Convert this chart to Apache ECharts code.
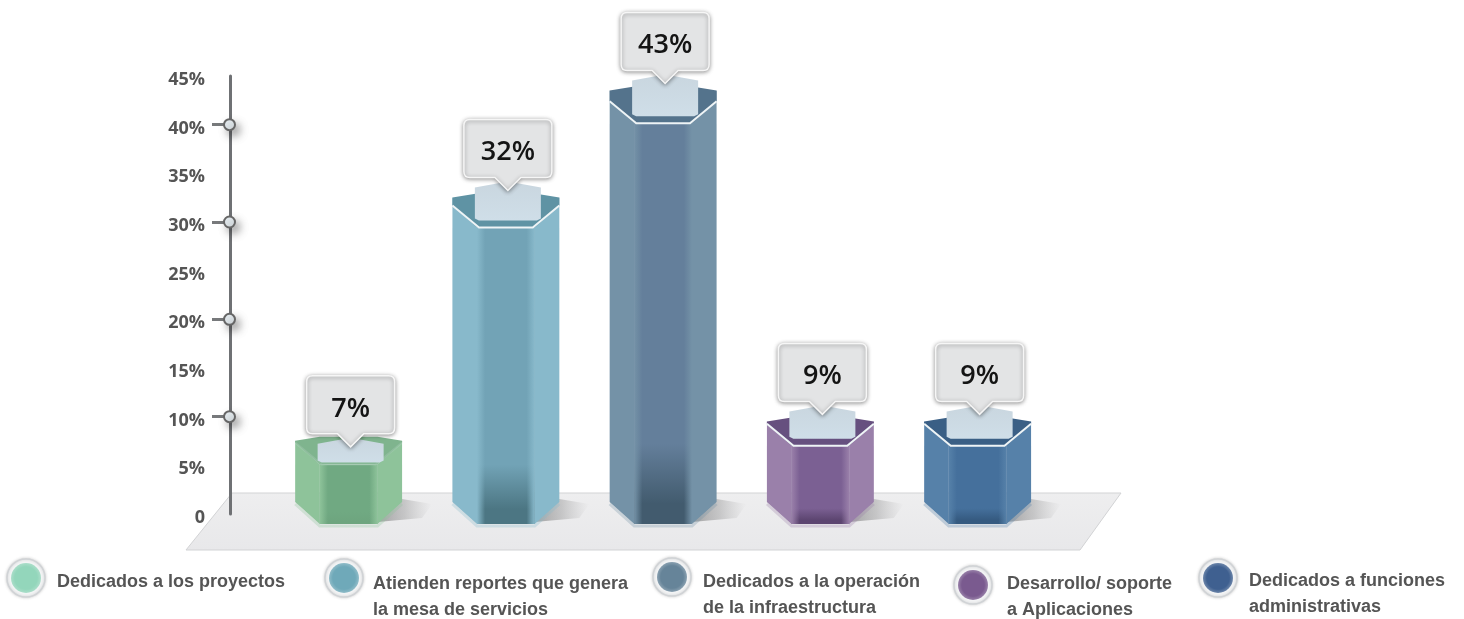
<!DOCTYPE html>
<html>
<head>
<meta charset="utf-8">
<title>Dedicación del personal</title>
<script src="https://cdn.jsdelivr.net/npm/echarts@6/dist/echarts.min.js"></script>
<style>
html, body {margin: 0; padding: 0; background: #fff;}
#main {width: 1464px; height: 619px;}
</style>
</head>
<body>
<div id="main"></div>
<script>
// data
const categories = ['Dedicados a los proyectos', 'Atienden reportes', 'Operación', 'Desarrollo', 'Administrativas'];
const percents = [7, 32, 43, 9, 9];
const tickMarks = [10, 20, 30, 40];
const legendLabels = [
    'Dedicados a los proyectos',
    'Atienden reportes que genera\nla mesa de servicios',
    'Dedicados a la operación\nde la infraestructura',
    'Desarrollo/ soporte\na Aplicaciones',
    'Dedicados a funciones\nadministrativas'
];

// colours per bar
const faceColors = ['#70a982', '#72a3b6', '#647f9b', '#7b6093', '#45709c'];
const sideColors = ['#8ec39a', '#88b9cb', '#7492a7', '#9a80aa', '#5681a9'];
const capColors = ['#7fb48e', '#5f93a4', '#54738c', '#66507f', '#3a5f85'];
const footColors = ['#6ea57f', '#4c7683', '#425b6e', '#5c4570', '#355a80'];
const legendColors = ['#93d6bb', '#6fa9b9', '#668499', '#7a5a8f', '#3f6090'];
const rimOpacity = [0.15, 1, 1, 1, 1];
// the short green bar has its bubble sitting down on the cap
const bubbleDrop = [13, 0, 0, 0, 0];

// legend layout: circle x, circle y, text x, text y
const legendPos = [
    [26, 578, 57, 582],
    [344, 578, 373, 597],
    [672, 577, 703, 595],
    [973, 585, 1007, 597],
    [1218, 578, 1249, 594]
];

const axisOffset = 40;

function vGrad(top, bottom){
    return new echarts.graphic.LinearGradient(0, 0, 0, 1, [
        {offset: 0, color: top}, {offset: 1, color: bottom}
    ]);
}

function hexBar(params, api){
    let i = params.dataIndex;
    let p = api.coord([api.value(0), api.value(1)]);
    let base = api.coord([api.value(0), 0])[1];
    let band = api.size([1, 0])[0];
    let c = p[0];
    let half = band * 0.34;
    let inner = half * 0.54;
    let back = p[1] - 9;
    let front = back + 26 + api.value(1) * 0.25;
    let sideTop = back + 4;
    let sideMid = front - 22;
    let sideFoot = base - 12;
    let foot = base + 10;

    let bubbleBottom = back - 16 + bubbleDrop[i];
    let bubbleTop = bubbleBottom - 58;
    let bx = c + 2;
    let bw = 44;
    let r = 6;
    let tip = bubbleBottom + 13;
    let bubblePath = `M${bx - bw + r} ${bubbleTop} L${bx + bw - r} ${bubbleTop} `
        + `Q${bx + bw} ${bubbleTop} ${bx + bw} ${bubbleTop + r} `
        + `L${bx + bw} ${bubbleBottom - r} Q${bx + bw} ${bubbleBottom} ${bx + bw - r} ${bubbleBottom} `
        + `L${bx + 13} ${bubbleBottom} L${bx} ${tip} L${bx - 13} ${bubbleBottom} `
        + `L${bx - bw + r} ${bubbleBottom} Q${bx - bw} ${bubbleBottom} ${bx - bw} ${bubbleBottom - r} `
        + `L${bx - bw} ${bubbleTop + r} Q${bx - bw} ${bubbleTop} ${bx - bw + r} ${bubbleTop} Z`;

    let paleTop = bubbleBottom + 4;
    let paleBottom = front - 7 + (bubbleDrop[i] ? 5 : 0);
    let clear = echarts.color.modifyAlpha(sideColors[i], 0);

    return {
        type: 'group',
        children: [
            // floor shadow
            {type: 'polygon', shape: {points: [[c + half - 6, base - 16], [c + half + 30, base - 10], [c + half + 20, base + 4], [c + inner, base + 8]]},
             style: {fill: new echarts.graphic.LinearGradient(0, 0, 1, 0, [
                {offset: 0, color: 'rgba(90,90,90,0.5)'}, {offset: 0.5, color: 'rgba(110,110,110,0.3)'}, {offset: 1, color: 'rgba(140,140,140,0)'}
             ])}},
            // glow under the foot
            {type: 'polyline', shape: {points: [[c - half, sideFoot + 2], [c - inner, foot + 2], [c + inner, foot + 2], [c + half, sideFoot + 2]]},
             style: {fill: null, stroke: sideColors[i], lineWidth: 3, opacity: 0.3}},
            // left and right faces
            {type: 'polygon', shape: {points: [[c - half, sideTop], [c - inner, front], [c - inner, foot], [c - half, sideFoot]]},
             style: {fill: sideColors[i]}},
            {type: 'polygon', shape: {points: [[c + half, sideTop], [c + inner, front], [c + inner, foot], [c + half, sideFoot]]},
             style: {fill: sideColors[i]}},
            // front face, darker at the foot
            {type: 'rect', shape: {x: c - inner, y: front, width: inner * 2, height: foot - front},
             style: {fill: new echarts.graphic.LinearGradient(0, 0, 0, 1, [
                {offset: 0, color: faceColors[i]}, {offset: 0.8, color: faceColors[i]}, {offset: 0.95, color: footColors[i]}, {offset: 1, color: footColors[i]}
             ])}},
            // blends the face edges into the sides
            {type: 'rect', shape: {x: c - inner, y: front, width: inner * 2, height: foot - front},
             style: {fill: new echarts.graphic.LinearGradient(0, 0, 1, 0, [
                {offset: 0, color: sideColors[i]}, {offset: 0.14, color: clear}, {offset: 0.86, color: clear}, {offset: 1, color: sideColors[i]}
             ])}},
            // cap
            {type: 'polygon', shape: {points: [[c - half, sideTop], [c - inner, back], [c + inner, back], [c + half, sideTop], [c + half, sideMid], [c + inner, front], [c - inner, front], [c - half, sideMid]]},
             style: {fill: capColors[i]}},
            // white rim
            {type: 'polyline', shape: {points: [[c - half, sideMid], [c - inner + 2, front], [c + inner - 2, front], [c + half, sideMid]]},
             style: {fill: null, stroke: '#eef4f6', lineWidth: 2, opacity: rimOpacity[i]}},
            // pale panel under the bubble
            {type: 'polygon', shape: {points: [[bx - 33, paleTop + 6], [bx, paleTop], [bx + 33, paleTop + 6], [bx + 33, paleBottom - 2], [bx + 29, paleBottom], [bx - 29, paleBottom], [bx - 33, paleBottom - 2]]},
             style: {fill: vGrad('#c9d6df', '#cfdee8')}},
            // bubble with the value
            {type: 'path', shape: {pathData: bubblePath},
             style: {fill: '#e3e4e5', stroke: '#f6f6f6', lineWidth: 1.5, shadowBlur: 4, shadowOffsetX: 0, shadowOffsetY: 1, shadowColor: 'rgba(0,0,0,0.4)'}},
            {type: 'text', x: bx, y: bubbleTop + 33,
             style: {text: api.value(1) + '%', fill: '#141414', font: '600 27px "Open Sans"', textAlign: 'center', textVerticalAlign: 'middle'}}
        ]
    };
}

function tickDot(params, api){
    let y = api.coord([0, api.value(1)])[1];
    let x = params.coordSys.x - axisOffset - 0.5;
    return {
        type: 'circle',
        shape: {cx: x, cy: y, r: 5.5},
        style: {fill: '#e6edf1', stroke: '#666', lineWidth: 2, shadowBlur: 9, shadowOffsetX: 4, shadowOffsetY: 5, shadowColor: 'rgba(0,0,0,0.35)'}
    };
}

function legendGraphics(){
    let items = [];
    legendLabels.forEach((label, i) => {
        let pos = legendPos[i];
        let soft = echarts.color.modifyAlpha(legendColors[i], 0.75);
        items.push({type: 'circle', z: 1, shape: {cx: pos[0], cy: pos[1], r: 19},
            style: {fill: '#f4f5f6', stroke: '#d0d3d6', lineWidth: 1.5, shadowBlur: 3, shadowColor: 'rgba(0,0,0,0.18)'}});
        items.push({type: 'circle', z: 2, shape: {cx: pos[0], cy: pos[1], r: 15},
            style: {fill: new echarts.graphic.RadialGradient(0.5, 0.5, 0.5, [
                {offset: 0, color: legendColors[i]}, {offset: 0.75, color: legendColors[i]}, {offset: 1, color: soft}
            ])}});
        items.push({type: 'text', z: 2, x: pos[2], y: pos[3],
            style: {text: label, fill: '#555', font: 'bold 18px "Liberation Sans"', lineHeight: 26, textVerticalAlign: 'middle'}});
    });
    return items;
}

let option = {
    animation: false,
    backgroundColor: '#fff',
    grid: {left: 270, width: 786.25, top: 76, height: 438},
    xAxis: {type: 'category', data: categories, show: false},
    yAxis: {
        type: 'value',
        min: 0,
        max: 45,
        interval: 5,
        offset: axisOffset,
        z: 3,
        splitLine: {show: false},
        axisLine: {show: true, lineStyle: {color: '#6f7174', width: 3}},
        axisTick: {show: true, customValues: tickMarks, length: 18, lineStyle: {color: '#77797b', width: 3}},
        axisLabel: {
            margin: 25,
            color: '#555',
            fontFamily: 'Open Sans',
            fontWeight: 'bold',
            fontSize: 18,
            verticalAlign: 'top',
            lineHeight: 8,
            formatter: v => v === 0 ? '0' : v + '%'
        }
    },
    graphic: [
        {type: 'polygon', z: 0, shape: {points: [[232, 493], [1121, 493], [1080, 550], [186, 550]]},
         style: {fill: vGrad('#eeeeef', '#e8e8ea'), stroke: '#d2d3d5', lineWidth: 1}}
    ].concat(legendGraphics()),
    series: [
        {
            type: 'custom',
            name: 'Bars',
            z: 4,
            renderItem: hexBar,
            encode: {x: 0, y: 1},
            data: percents.map((v, i) => [i, v])
        },
        {
            type: 'custom',
            name: 'Ticks',
            z: 5,
            renderItem: tickDot,
            encode: {x: 0, y: 1},
            data: tickMarks.map(v => [0, v])
        }
    ]
};

let chart = echarts.init(document.getElementById('main'));
chart.setOption(option);
</script>
</body>
</html>
